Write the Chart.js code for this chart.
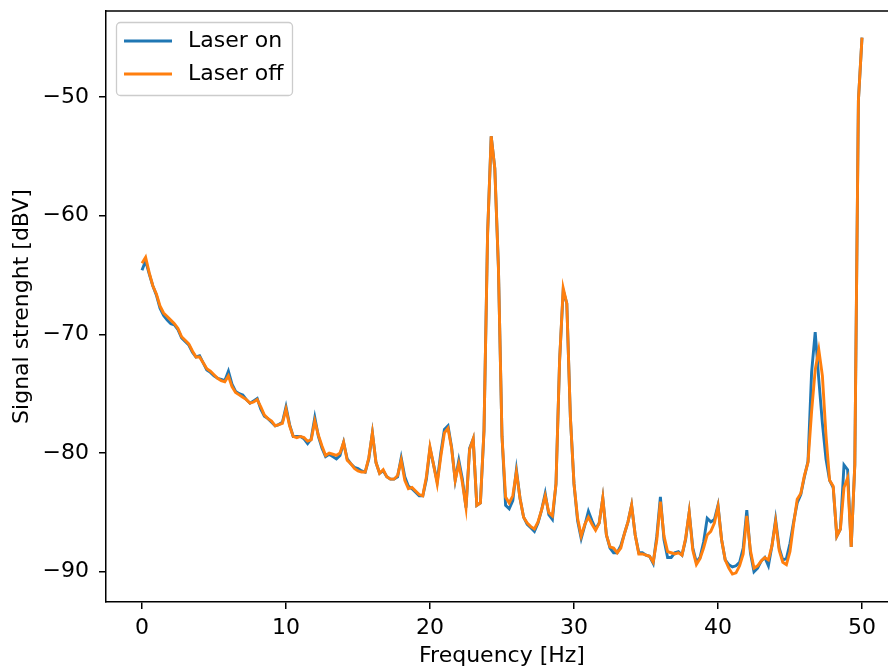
<!DOCTYPE html>
<html>
<head>
<meta charset="utf-8">
<script src="https://cdn.jsdelivr.net/npm/chart.js@4.4.1/dist/chart.umd.min.js"></script>
<style>
  html, body { margin: 0; padding: 0; background: #fff; overflow: hidden; }
  #wrap { width: 888px; height: 669px; overflow: hidden; }
</style>
</head>
<body>
<div id="wrap"><canvas id="grafico" width="920" height="669"></canvas></div>
<script>
// frequency grid [Hz]
var freq = [
  0, 0.25, 0.5, 0.75, 1, 1.25, 1.5, 1.75, 2, 2.25, 2.5, 2.75, 3, 3.25, 3.5, 3.75, 4, 4.25, 4.5, 4.75,
  5, 5.25, 5.5, 5.75, 6, 6.25, 6.5, 6.75, 7, 7.25, 7.5, 7.75, 8, 8.25, 8.5, 8.75, 9, 9.25, 9.5, 9.75,
  10, 10.25, 10.5, 10.75, 11, 11.25, 11.5, 11.75, 12, 12.25, 12.5, 12.75, 13, 13.25, 13.5, 13.75, 14, 14.25, 14.5, 14.75,
  15, 15.25, 15.5, 15.75, 16, 16.25, 16.5, 16.75, 17, 17.25, 17.5, 17.75, 18, 18.25, 18.5, 18.75, 19, 19.25, 19.5, 19.75,
  20, 20.25, 20.5, 20.75, 21, 21.25, 21.5, 21.75, 22, 22.25, 22.5, 22.75, 23, 23.25, 23.5, 23.75, 24, 24.25, 24.5, 24.75,
  25, 25.25, 25.5, 25.75, 26, 26.25, 26.5, 26.75, 27, 27.25, 27.5, 27.75, 28, 28.25, 28.5, 28.75, 29, 29.25, 29.5, 29.75,
  30, 30.25, 30.5, 30.75, 31, 31.25, 31.5, 31.75, 32, 32.25, 32.5, 32.75, 33, 33.25, 33.5, 33.75, 34, 34.25, 34.5, 34.75,
  35, 35.25, 35.5, 35.75, 36, 36.25, 36.5, 36.75, 37, 37.25, 37.5, 37.75, 38, 38.25, 38.5, 38.75, 39, 39.25, 39.5, 39.75,
  40, 40.25, 40.5, 40.75, 41, 41.25, 41.5, 41.75, 42, 42.25, 42.5, 42.75, 43, 43.25, 43.5, 43.75, 44, 44.25, 44.5, 44.75,
  45, 45.25, 45.5, 45.75, 46, 46.25, 46.5, 46.75, 47, 47.25, 47.5, 47.75, 48, 48.25, 48.5, 48.75, 49, 49.25, 49.5, 49.75,
  50
]

// signal [dBV], laser on
var laserOn = [
  -64.6, -63.8, -64.9, -65.9, -66.7, -67.8, -68.4, -68.8, -69.1, -69.2, -69.6, -70.3,
  -70.6, -70.9, -71.5, -71.9, -71.8, -72.4, -73.0, -73.2, -73.5, -73.7, -73.8, -73.9,
  -73.1, -74.2, -74.8, -75.0, -75.1, -75.5, -75.8, -75.6, -75.4, -76.3, -76.9, -77.1,
  -77.4, -77.7, -77.6, -77.4, -76.1, -77.6, -78.6, -78.6, -78.6, -78.8, -79.2, -78.8,
  -77.0, -78.6, -79.6, -80.3, -80.1, -80.3, -80.5, -80.2, -79.1, -80.5, -80.9, -81.2,
  -81.3, -81.5, -81.6, -80.5, -78.3, -80.8, -81.7, -81.5, -82.0, -82.2, -82.2, -82.0,
  -80.4, -82.0, -82.8, -83.0, -83.3, -83.6, -83.6, -82.2, -79.6, -81.0, -82.4, -80.0,
  -78.0, -77.7, -79.5, -82.3, -80.6, -82.2, -84.6, -79.6, -78.8, -84.4, -84.2, -78.1,
  -61.5, -53.3, -56.0, -64.3, -78.6, -84.4, -84.7, -84.0, -81.4, -83.8, -85.4, -86.0,
  -86.3, -86.6, -85.9, -84.8, -83.4, -85.2, -85.6, -82.6, -72.2, -66.3, -67.4, -77.0,
  -82.6, -85.7, -87.2, -86.1, -84.9, -85.7, -86.4, -85.9, -83.8, -86.9, -88.0, -88.4,
  -88.4, -87.8, -86.8, -85.8, -84.4, -86.9, -88.4, -88.4, -88.6, -88.7, -89.3, -87.0,
  -83.7, -87.3, -88.8, -88.8, -88.4, -88.3, -88.6, -87.3, -85.0, -88.0, -89.2, -88.8,
  -87.5, -85.5, -85.8, -85.6, -84.4, -87.3, -89.0, -89.4, -89.6, -89.5, -89.2, -88.0,
  -84.8, -88.4, -90.0, -89.7, -89.1, -88.8, -89.5, -87.8, -85.6, -88.0, -89.0, -88.9,
  -87.6, -85.8, -84.2, -83.5, -82.0, -80.7, -73.2, -69.8, -73.8, -77.5, -80.5, -82.3,
  -82.9, -87.0, -86.4, -81.0, -81.4, -87.9, -81.0, -50.3, -45.0
]

// signal [dBV], laser off
var laserOff = [
  -64.0, -63.5, -64.8, -65.9, -66.6, -67.6, -68.2, -68.5, -68.8, -69.1, -69.5, -70.2,
  -70.5, -70.8, -71.4, -71.9, -71.9, -72.4, -72.9, -73.1, -73.4, -73.7, -73.9, -74.0,
  -73.5, -74.4, -74.9, -75.1, -75.3, -75.5, -75.8, -75.7, -75.5, -76.1, -76.8, -77.1,
  -77.3, -77.7, -77.6, -77.5, -76.3, -77.7, -78.6, -78.7, -78.6, -78.7, -79.0, -78.9,
  -77.3, -78.5, -79.4, -80.2, -80.0, -80.1, -80.2, -80.0, -79.1, -80.6, -80.9, -81.3,
  -81.5, -81.6, -81.6, -80.4, -78.3, -80.8, -81.7, -81.4, -82.0, -82.2, -82.2, -81.9,
  -80.6, -82.3, -83.0, -82.9, -83.2, -83.5, -83.6, -82.0, -79.5, -81.0, -82.6, -80.3,
  -78.3, -77.9, -79.6, -82.3, -80.9, -82.5, -84.6, -79.7, -78.8, -84.4, -84.2, -78.1,
  -61.5, -53.3, -56.0, -64.3, -78.6, -83.7, -84.2, -83.6, -81.6, -83.8, -85.4, -85.9,
  -86.2, -86.4, -85.8, -84.8, -83.6, -85.0, -85.3, -82.6, -72.2, -66.1, -67.4, -77.0,
  -82.6, -85.5, -87.0, -86.0, -85.4, -86.0, -86.5, -85.9, -83.8, -86.9, -87.9, -88.0,
  -88.4, -88.0, -86.8, -85.8, -84.4, -86.9, -88.5, -88.5, -88.6, -88.7, -89.2, -87.3,
  -84.1, -87.0, -88.3, -88.4, -88.5, -88.4, -88.6, -87.2, -85.0, -88.2, -89.4, -88.9,
  -88.0, -86.9, -86.6, -85.9, -84.5, -87.3, -89.0, -89.7, -90.2, -90.1, -89.5, -88.5,
  -85.3, -88.2, -89.7, -89.5, -89.1, -88.8, -89.0, -87.8, -85.8, -88.2, -89.2, -89.4,
  -88.3, -86.0, -83.9, -83.4, -81.9, -80.8, -76.5, -73.0, -71.3, -73.5, -78.5, -82.3,
  -82.8, -87.0, -86.4, -82.9, -82.1, -87.9, -81.0, -50.3, -45.0
]

var seriesLabels = ['Laser on', 'Laser off']
var xTicks = [0, 10, 20, 30, 40, 50]
var yTicks = [-90, -80, -70, -60, -50]

Chart.defaults.font.family = "'DejaVu Sans', sans-serif"
Chart.defaults.font.size = 22
Chart.defaults.color = '#000'

function toPoints(values) {
  return values.map((v, i) => ({ x: freq[i], y: v }))
}

function minus(v) {
  return String(v).replace('-', '\u2212')
}

// top spine (matplotlib box)
const topSpine = {
  id: 'topSpine',
  afterDraw(chart) {
    const { ctx, chartArea } = chart
    ctx.save()
    ctx.strokeStyle = '#000'
    ctx.lineWidth = 1.5
    ctx.beginPath()
    ctx.moveTo(chartArea.left, chartArea.top)
    ctx.lineTo(chartArea.right, chartArea.top)
    ctx.stroke()
    ctx.restore()
  }
}

// legend box in the upper left corner
const legenda = {
  id: 'legenda',
  afterDraw(chart) {
    const ctx = chart.ctx
    ctx.save()
    ctx.beginPath()
    ctx.roundRect(116.5, 22.5, 176, 73, 4)
    ctx.fillStyle = 'rgba(255,255,255,0.8)'
    ctx.fill()
    ctx.strokeStyle = '#cccccc'
    ctx.lineWidth = 1.3
    ctx.stroke()
    chart.data.datasets.forEach((ds, i) => {
      const y = 41 + i * 33
      ctx.strokeStyle = ds.borderColor
      ctx.lineWidth = 2.9
      ctx.beginPath()
      ctx.moveTo(124, y)
      ctx.lineTo(172, y)
      ctx.stroke()
      ctx.fillStyle = '#000'
      ctx.font = "22px 'DejaVu Sans', sans-serif"
      ctx.textBaseline = 'middle'
      ctx.textAlign = 'left'
      ctx.fillText(ds.label, 188, y)
    })
    ctx.restore()
  }
}

const ctxGrafico = document.getElementById('grafico')
const grafico = new Chart(ctxGrafico, {
  type: 'line',
  data: {
    datasets: [{
      label: seriesLabels[0],
      data: toPoints(laserOn),
      borderColor: '#1f77b4',
      borderWidth: 2.9,
      pointRadius: 0,
      tension: 0,
      order: 1
    }, {
      label: seriesLabels[1],
      data: toPoints(laserOff),
      borderColor: '#ff7f0e',
      borderWidth: 2.9,
      pointRadius: 0,
      tension: 0,
      order: 0
    }]
  },
  options: {
    responsive: false,
    animation: false,
    devicePixelRatio: 1,
    layout: { padding: { left: 0, top: 11, right: 22, bottom: 0 } },
    plugins: {
      legend: { display: false },
      tooltip: { enabled: false }
    },
    scales: {
      x: {
        type: 'linear',
        min: -2.5,
        max: 52.5,
        afterFit: s => { s.height = 67; s.paddingLeft = 0; s.paddingRight = 0 },
        afterBuildTicks: s => { s.ticks = xTicks.map(v => ({ value: v })) },
        ticks: { padding: 6, callback: v => minus(v), maxRotation: 0 },
        grid: { drawOnChartArea: false, drawTicks: true, tickLength: 7, color: '#000', lineWidth: 1.5 },
        border: { display: true, color: '#000', width: 1.5 },
        title: { display: true, text: 'Frequency [Hz]', padding: { top: 0, bottom: 0 } }
      },
      y: {
        type: 'linear',
        min: -92.55,
        max: -42.75,
        afterFit: s => { s.width = 106; s.paddingTop = 0; s.paddingBottom = 0 },
        afterBuildTicks: s => { s.ticks = yTicks.map(v => ({ value: v })) },
        ticks: { padding: 10, callback: v => minus(v) },
        grid: { drawOnChartArea: false, drawTicks: true, tickLength: 7, color: '#000', lineWidth: 1.5 },
        border: { display: true, color: '#000', width: 1.5 },
        title: { display: true, text: 'Signal strenght [dBV]', padding: { top: 9, bottom: 0 } }
      }
    }
  },
  plugins: [topSpine, legenda]
})
</script>
</body>
</html>
